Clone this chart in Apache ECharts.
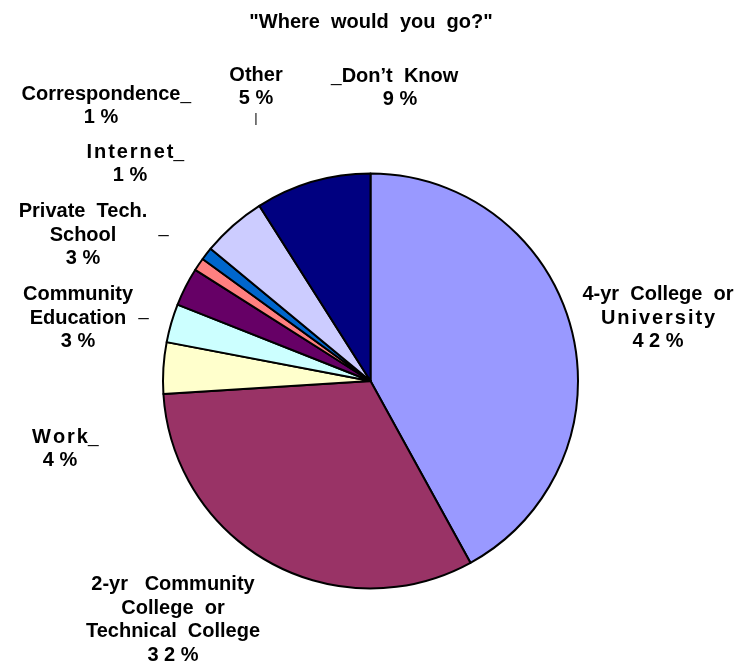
<!DOCTYPE html>
<html>
<head>
<meta charset="utf-8">
<script src="https://cdn.jsdelivr.net/npm/echarts@6/dist/echarts.min.js"></script>
<style>
  html, body { margin: 0; padding: 0; background: #ffffff; }
  #chart { width: 741px; height: 669px; }
</style>
</head>
<body>
<div id="chart"></div>
<script>
// Survey answers, clockwise from twelve o'clock
const categories = [
  '4-yr College or University',
  '2-yr Community College or Technical College',
  'Work',
  'Community Education',
  'Private Tech. School',
  'Internet',
  'Correspondence',
  'Other',
  "Don't Know"
];
const percents = [42, 32, 4, 3, 3, 1, 1, 5, 9];
const sliceColors = ['#9999FF', '#993366', '#FFFFCC', '#CCFFFF', '#660066', '#FF8080', '#0066CC', '#CCCCFF', '#000080'];

// Where each label block is centred
const labelCenters = [
  [658, 318], [173, 620], [60, 449], [78, 318], [83, 235],
  [130, 164], [101, 106], [256, 95], [400, 88]
];

const FONT = "'Liberation Sans', Arial, Helvetica, sans-serif";
const FS = 20;
const LH = 23.5;

// letter-spaced word
function track(word) { return word.split('').join('{g| }'); }
// "42" -> "4 2 %"
function pctText(v) { return String(v).split('').join(' ') + ' %'; }

// label lines for each slice; {h|..} is an invisible twin of a tick so the word stays centred
function labelLines(i, v) {
  const p = pctText(v);
  switch (i) {
    case 0: return ['4-yr  College  or', track('University'), p];
    case 1: return ['2-yr   Community', 'College  or', 'Technical  College', p];
    case 2: return ['{h|_}' + track('Work') + '{d|_}', p];
    case 3: return ['Community', '{hc|–}Education{dc|–}', p];
    case 4: return ['Private  Tech.', '{hp|–}School{dp|–}', p];
    case 5: return ['{h|_}' + track('Internet') + '{d|_}', p];
    case 6: return ['{h|_}Correspondence{d|_}', p];
    case 7: return ['Other', p, '{v||}'];
    case 8: return ['{d|_}Don’t  Know{h|_}', p];
  }
  return [categories[i], p];
}

const tick = { fontFamily: FONT, fontSize: 19, fontWeight: 'normal', color: '#111', lineHeight: LH };
const hidden = Object.assign({}, tick, { color: 'rgba(0,0,0,0)' });

const chart = echarts.init(document.getElementById('chart'), null, { renderer: 'canvas' });

chart.setOption({
  backgroundColor: '#ffffff',
  animation: false,
  title: {
    text: '"Where  would  you  go?"',
    left: 366,
    top: 7,
    textAlign: 'center',
    textStyle: { fontFamily: FONT, fontSize: FS, fontWeight: 'bold', color: '#000' }
  },
  series: [{
    type: 'pie',
    center: [370.5, 381],
    radius: 207.5,
    startAngle: 90,
    clockwise: true,
    avoidLabelOverlap: false,
    silent: true,
    itemStyle: { borderColor: '#000', borderWidth: 2 },
    label: {
      show: true,
      position: 'outside',
      fontFamily: FONT,
      fontSize: FS,
      fontWeight: 'bold',
      color: '#000',
      lineHeight: LH,
      align: 'center',
      formatter: function (params) {
        return labelLines(params.dataIndex, params.value).join('\n');
      },
      rich: {
        g: { fontFamily: FONT, fontSize: 7, lineHeight: LH },
        d: tick,
        h: hidden,
        dc: Object.assign({}, tick, { padding: [0, 0, 0, 12] }),
        hc: Object.assign({}, hidden, { padding: [0, 12, 0, 0] }),
        dp: Object.assign({}, tick, { padding: [0, 0, 0, 42] }),
        hp: Object.assign({}, hidden, { padding: [0, 42, 0, 0] }),
        v: { fontFamily: FONT, fontSize: 13, fontWeight: 'normal', color: '#000', lineHeight: 16 }
      }
    },
    labelLine: { show: false },
    labelLayout: function (params) {
      const c = labelCenters[params.dataIndex];
      return { x: c[0], y: c[1], align: 'center', verticalAlign: 'middle' };
    },
    data: percents.map(function (v, i) {
      return { name: categories[i], value: v, itemStyle: { color: sliceColors[i] } };
    })
  }]
});
</script>
</body>
</html>
